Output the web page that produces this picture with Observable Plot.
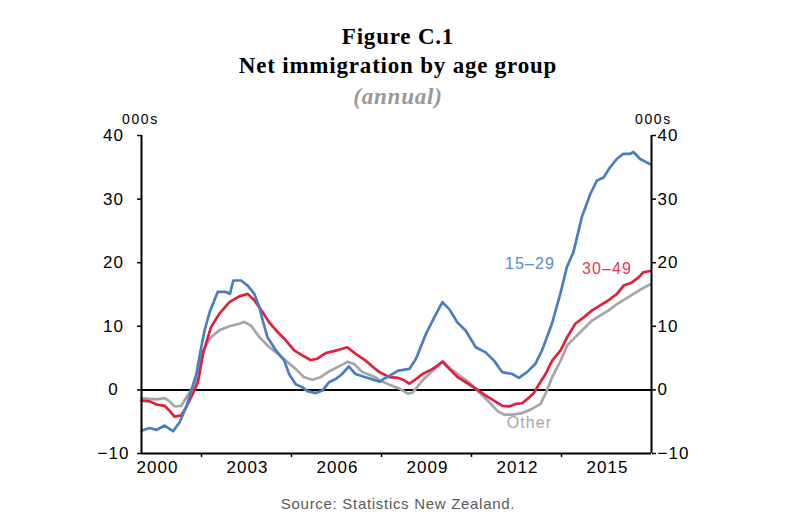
<!DOCTYPE html>
<html><head><meta charset="utf-8">
<script src="https://cdn.jsdelivr.net/npm/d3@7"></script>
<script src="https://cdn.jsdelivr.net/npm/@observablehq/plot@0.6"></script>
<style>
body{margin:0;background:#fff;}
#wrap{position:relative;width:812px;height:521px;overflow:hidden;background:#fff;}
.t{position:absolute;left:0;width:796px;text-align:center;font-family:"Liberation Serif",serif;font-weight:bold;color:#000;font-size:23px;line-height:23px;letter-spacing:0.8px;white-space:nowrap;}
.u{position:absolute;font-family:"Liberation Sans",Arial,sans-serif;font-size:14px;line-height:14px;letter-spacing:1.6px;color:#000;}
#src{position:absolute;left:0;width:796px;text-align:center;font-family:"Liberation Sans",Arial,sans-serif;font-size:15px;line-height:15px;letter-spacing:0.7px;color:#595959;top:496px;}
#chart{position:absolute;left:0;top:100px;}
#chart text{letter-spacing:1.1px;}
</style></head><body><div id="wrap">
<div class="t" style="top:25px">Figure C.1</div>
<div class="t" style="top:54px">Net immigration by age group</div>
<div class="t" style="top:85px;font-style:italic;color:#999">(annual)</div>
<div class="u" style="left:122px;top:112px">000s</div>
<div class="u" style="left:635px;top:112px">000s</div>
<div id="chart"></div>
<div id="src">Source: Statistics New Zealand.</div>
</div>
<script>
// Series: 15–29
const years1529 = [2000.0,2000.28,2000.5,2000.77,2001.05,2001.27,2001.49,2001.66,2001.83,2001.99,2002.1,2002.27,2002.54,2002.82,2002.95,2003.06,2003.32,2003.54,2003.76,2003.93,2004.04,2004.2,2004.48,2004.76,2004.92,2005.14,2005.37,2005.53,2005.81,2006.03,2006.25,2006.47,2006.69,2006.91,2007.13,2007.47,2007.8,2007.95,2008.1,2008.3,2008.54,2008.93,2009.15,2009.48,2009.76,2010.03,2010.26,2010.53,2010.81,2011.14,2011.47,2011.75,2012.02,2012.36,2012.58,2012.85,2013.13,2013.35,2013.68,2013.96,2014.18,2014.4,2014.68,2014.96,2015.18,2015.4,2015.62,2015.84,2016.06,2016.28,2016.4,2016.62,2016.95];
const values1529 = [-6.4,-6.0,-6.3,-5.6,-6.5,-5.1,-2.7,-0.1,2.5,6.7,9.3,12.2,15.4,15.4,15.1,17.2,17.2,16.4,15.1,13.0,10.9,8.3,6.2,4.6,2.5,0.9,0.4,-0.2,-0.5,-0.1,1.2,1.7,2.5,3.7,2.5,2.0,1.5,1.3,1.8,2.3,3.0,3.3,4.9,8.8,11.4,13.8,12.7,10.6,9.3,6.7,5.9,4.6,2.8,2.5,1.9,2.8,4.1,6.2,10.4,15.1,19.3,21.7,27.2,30.8,32.9,33.4,35.0,36.3,37.1,37.1,37.4,36.3,35.5];
// Series: 30–49
const years3049 = [2000.0,2000.28,2000.5,2000.77,2000.94,2001.1,2001.33,2001.49,2001.71,2001.88,2002.05,2002.32,2002.6,2002.93,2003.26,2003.54,2003.76,2004.04,2004.26,2004.54,2004.81,2005.09,2005.37,2005.64,2005.86,2006.14,2006.42,2006.64,2006.86,2007.13,2007.47,2007.8,2007.93,2008.27,2008.54,2008.76,2008.93,2009.15,2009.37,2009.71,2010.04,2010.26,2010.54,2010.81,2011.14,2011.48,2011.75,2012.03,2012.25,2012.47,2012.69,2012.92,2013.08,2013.25,2013.47,2013.69,2013.97,2014.19,2014.46,2014.74,2015.02,2015.29,2015.57,2015.85,2016.07,2016.35,2016.57,2016.73,2016.95];
const values3049 = [-1.7,-1.8,-2.3,-2.5,-3.3,-4.2,-4.0,-2.7,-0.6,1.2,5.7,9.9,12.0,13.8,14.7,15.1,14.1,12.2,10.6,9.1,7.8,6.2,5.4,4.7,4.9,5.8,6.1,6.4,6.7,5.7,4.6,3.3,2.8,2.0,1.9,1.5,1.0,1.7,2.5,3.3,4.4,3.3,2.0,1.2,0.2,-0.9,-1.7,-2.5,-2.6,-2.2,-2.1,-1.2,-0.5,0.9,2.5,4.6,6.2,8.3,10.4,11.4,12.5,13.3,14.1,15.1,16.4,16.9,17.7,18.5,18.7];
// Series: Other
const yearsOther = [2000.0,2000.28,2000.5,2000.77,2000.94,2001.1,2001.33,2001.49,2001.71,2001.88,2002.05,2002.32,2002.6,2002.93,2003.26,2003.43,2003.65,2003.93,2004.26,2004.54,2004.81,2005.14,2005.42,2005.7,2005.97,2006.25,2006.58,2006.86,2007.08,2007.36,2007.8,2007.93,2008.27,2008.6,2008.88,2009.04,2009.37,2009.71,2010.04,2010.31,2010.59,2010.92,2011.26,2011.59,2011.86,2012.08,2012.36,2012.64,2012.97,2013.3,2013.47,2013.69,2013.97,2014.19,2014.46,2014.8,2015.02,2015.29,2015.57,2015.85,2016.13,2016.4,2016.68,2016.95];
const valuesOther = [-1.3,-1.4,-1.5,-1.3,-1.8,-2.6,-2.5,-1.2,0.4,2.0,6.2,8.3,9.4,10.0,10.4,10.7,10.1,8.3,6.7,5.7,4.6,3.3,2.0,1.6,2.0,2.9,3.7,4.4,4.1,2.8,2.0,1.5,0.8,0.2,-0.6,-0.4,1.5,3.0,4.5,3.3,2.3,1.2,-0.4,-1.9,-3.3,-3.9,-3.9,-3.7,-3.1,-2.2,-0.6,2.0,4.6,7.0,8.3,9.9,10.9,11.7,12.5,13.5,14.3,15.1,15.9,16.6];

const yTicks = [-10, 0, 10, 20, 30, 40];
const xLabelYears = [2000, 2003, 2006, 2009, 2012, 2015];
const xTickMarks = [2002, 2005, 2008, 2011, 2014];
const xDomain = [2000, 2017];

const seriesNames = ["15–29", "30–49", "Other"];
const seriesColors = ["#4a7ec0", "#e0213b", "#a6a6a6"];
const labelColors = ["#5b8bd0", "#e23a52", "#a6a6a6"];
const labelX = [2012.95, 2015.52, 2012.93];
const labelY = [19.8, 19.0, -5.2];

const toRows = (xs, ys, s) => xs.map((x, i) => ({x, y: ys[i], s}));
const rows = [
  ...toRows(yearsOther, valuesOther, "Other"),
  ...toRows(years3049, values3049, "30–49"),
  ...toRows(years1529, values1529, "15–29")
];
const labels = seriesNames.map((n, i) => ({n, x: labelX[i], y: labelY[i]}));
const fmt = d => d < 0 ? "\u2212" + Math.abs(d) : String(d);

const chart = Plot.plot({
  width: 812,
  height: 380,
  marginTop: 35,
  marginBottom: 27,
  marginLeft: 141,
  marginRight: 161,
  style: {fontFamily: "'Liberation Sans', Arial, sans-serif", fontSize: "17px", color: "#000", background: "transparent", overflow: "visible"},
  x: {domain: xDomain},
  y: {domain: [-10, 40]},
  color: {domain: seriesNames, range: seriesColors},
  marks: [
    Plot.ruleY([0], {stroke: "#000", strokeWidth: 2}),
    Plot.line(rows, {x: "x", y: "y", z: "s", stroke: "s", strokeWidth: 2.7, strokeLinejoin: "round"}),
    Plot.ruleX([xDomain[0]], {stroke: "#000", strokeWidth: 2}),
    Plot.ruleX([xDomain[1]], {stroke: "#000", strokeWidth: 2}),
    Plot.ruleY([-10], {stroke: "#000", strokeWidth: 2}),
    Plot.axisY({anchor: "left", ticks: yTicks, tickSize: 4, tickPadding: 24, textAnchor: "middle", label: null, tickFormat: fmt, stroke: "#000", strokeWidth: 1.5, fill: "#000"}),
    Plot.axisY({anchor: "right", ticks: yTicks, tickSize: 4, tickPadding: 2, label: null, tickFormat: fmt, stroke: "#000", strokeWidth: 1.5, fill: "#000"}),
    Plot.axisX({ticks: xTickMarks, tickSize: 4, tickFormat: () => "", label: null, stroke: "#000", strokeWidth: 1.5}),
    Plot.axisX({ticks: xLabelYears, tickSize: 0, tickPadding: 7, dx: 16, tickFormat: d => String(d), label: null, fill: "#000"}),
    Plot.text(labels, {x: "x", y: "y", text: "n", fill: (d, i) => labelColors[i], fontSize: 16})
  ]
});
document.getElementById("chart").appendChild(chart);
</script>
</body></html>
